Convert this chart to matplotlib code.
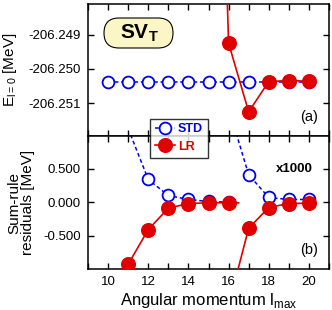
import matplotlib
matplotlib.use("Agg")
import matplotlib.pyplot as plt
from matplotlib.lines import Line2D
from matplotlib.patches import FancyBboxPatch
from matplotlib.transforms import IdentityTransform
from matplotlib.ticker import FormatStrFormatter, MultipleLocator

plt.rcParams.update({"font.family": ["Liberation Sans", "DejaVu Sans"], "font.size": 9,
                     "axes.linewidth": 1.1, "mathtext.fontset": "custom",
                     "mathtext.rm": "Liberation Sans", "mathtext.bf": "Liberation Sans:bold"})

# top panel: ground-state energy
l_std_top = [10, 11, 12, 13, 14, 15, 16, 17, 18, 19, 20]
e_std_top = [-206.25037, -206.25037, -206.25037, -206.25037, -206.25037, -206.25037,
             -206.25037, -206.25037, -206.25037, -206.25037, -206.25037]
l_lr_top = [15, 16, 17, 18, 19, 20]
e_lr_top = [-206.230, -206.24924, -206.25126, -206.25037, -206.25034, -206.25036]

# bottom panel: sum-rule residuals (x1000)
l_std_1 = [11, 12, 13, 14, 15, 16]
r_std_1 = [1.10, 0.34, 0.10, 0.04, 0.01, 0.00]
l_lr_1 = [11, 12, 13, 14, 15, 16, 16.5]
r_lr_1 = [-0.93, -0.41, -0.09, -0.02, -0.01, -0.01, -0.01]
l_std_2 = [16, 17, 18, 19, 20]
r_std_2 = [1.41, 0.41, 0.07, 0.04, 0.04]
l_lr_2 = [16, 17, 18, 19, 20]
r_lr_2 = [-1.55, -0.39, -0.08, -0.02, -0.015]

BLUE = "#0000ee"
RED = "#e00000"
std_kw = dict(color=BLUE, ls=(0, (2.5, 1.8)), lw=1.1, marker="o", ms=8.5,
              mfc="white", mec=BLUE, mew=1.3)
lr_kw = dict(color=RED, ls="-", lw=1.2, marker="o", ms=9.8, mfc=RED, mec=RED)

fig = plt.figure(figsize=(3.32, 3.10), dpi=100)
W, H = 332, 310
ax1 = fig.add_axes([88 / W, 1 - 136 / H, 241 / W, 132 / H])
ax2 = fig.add_axes([88 / W, 1 - 269 / H, 241 / W, 133 / H])

ax1.plot(l_std_top, e_std_top, **std_kw, zorder=2)
ax1.plot(l_lr_top, e_lr_top, **lr_kw, zorder=3)
ax1.set_ylim(-206.25197, -206.24809)
ax1.set_yticks([-206.251, -206.250, -206.249])
ax1.yaxis.set_major_formatter(FormatStrFormatter("%.3f"))
ax1.set_ylabel("E$_{\\mathregular{l=0}}$ [MeV]", fontsize=11, labelpad=7)
ax1.tick_params(labelbottom=False)

ax2.plot(l_std_1, r_std_1, **std_kw, zorder=2)
ax2.plot(l_std_2, r_std_2, **std_kw, zorder=2)
ax2.plot(l_lr_1, r_lr_1, **lr_kw, markevery=[0, 1, 2, 3, 4, 5], zorder=3)
ax2.plot(l_lr_2, r_lr_2, **lr_kw, zorder=3)
ax2.set_ylim(-1.0, 0.99)
ax2.set_yticks([-0.5, 0.0, 0.5])
ax2.yaxis.set_major_formatter(FormatStrFormatter("%.3f"))
ax2.set_ylabel("Sum-rule\nresiduals [MeV]", fontsize=11, labelpad=6, linespacing=0.95)
ax2.set_xlabel("Angular momentum l$_{\\mathregular{max}}$", fontsize=12, labelpad=2)
ax2.set_xticks([10, 12, 14, 16, 18, 20])

for ax in (ax1, ax2):
    ax.set_xlim(9, 21)
    ax.xaxis.set_minor_locator(MultipleLocator(1))
    ax.tick_params(which="both", direction="in", top=True, right=True,
                   length=4, width=1.0, labelsize=9.5, pad=5)

# SV_T badge (rounded box drawn in pixel units)
badge = FancyBboxPatch((104, H - 48), 69, 30, boxstyle="round,pad=0,rounding_size=15",
                       transform=IdentityTransform(), fc="#fcf6c6", ec="black", lw=0.8,
                       zorder=5)
fig.patches.append(badge)
fig.text(139 / W, 1 - 33 / H, "SV$_\\mathbf{T}$", ha="center", va="center",
         fontsize=15, fontweight="bold", zorder=6)

ax1.text(0.917, 0.145, "(a)", transform=ax1.transAxes, ha="center", va="center", fontsize=10.5)
ax2.text(0.917, 0.143, "(b)", transform=ax2.transAxes, ha="center", va="center", fontsize=10.5)
ax2.text(0.855, 0.75, "x1000", transform=ax2.transAxes, ha="center", va="center",
         fontsize=9.5, fontweight="bold")

handles = [Line2D([], [], **std_kw), Line2D([], [], **lr_kw)]
leg = fig.legend(handles, ["STD", "LR"], loc="center", bbox_to_anchor=(179 / W, 1 - 138 / H),
                 prop={"weight": "bold", "size": 9}, frameon=True, fancybox=False,
                 handlelength=1.6, handletextpad=0.2, borderpad=0.4, labelspacing=0.4,
                 borderaxespad=0)
leg.get_frame().set_edgecolor("black")
leg.get_frame().set_linewidth(1.0)
leg.get_texts()[0].set_color(BLUE)
leg.get_texts()[1].set_color(RED)

fig.savefig("out.png", dpi=100)
